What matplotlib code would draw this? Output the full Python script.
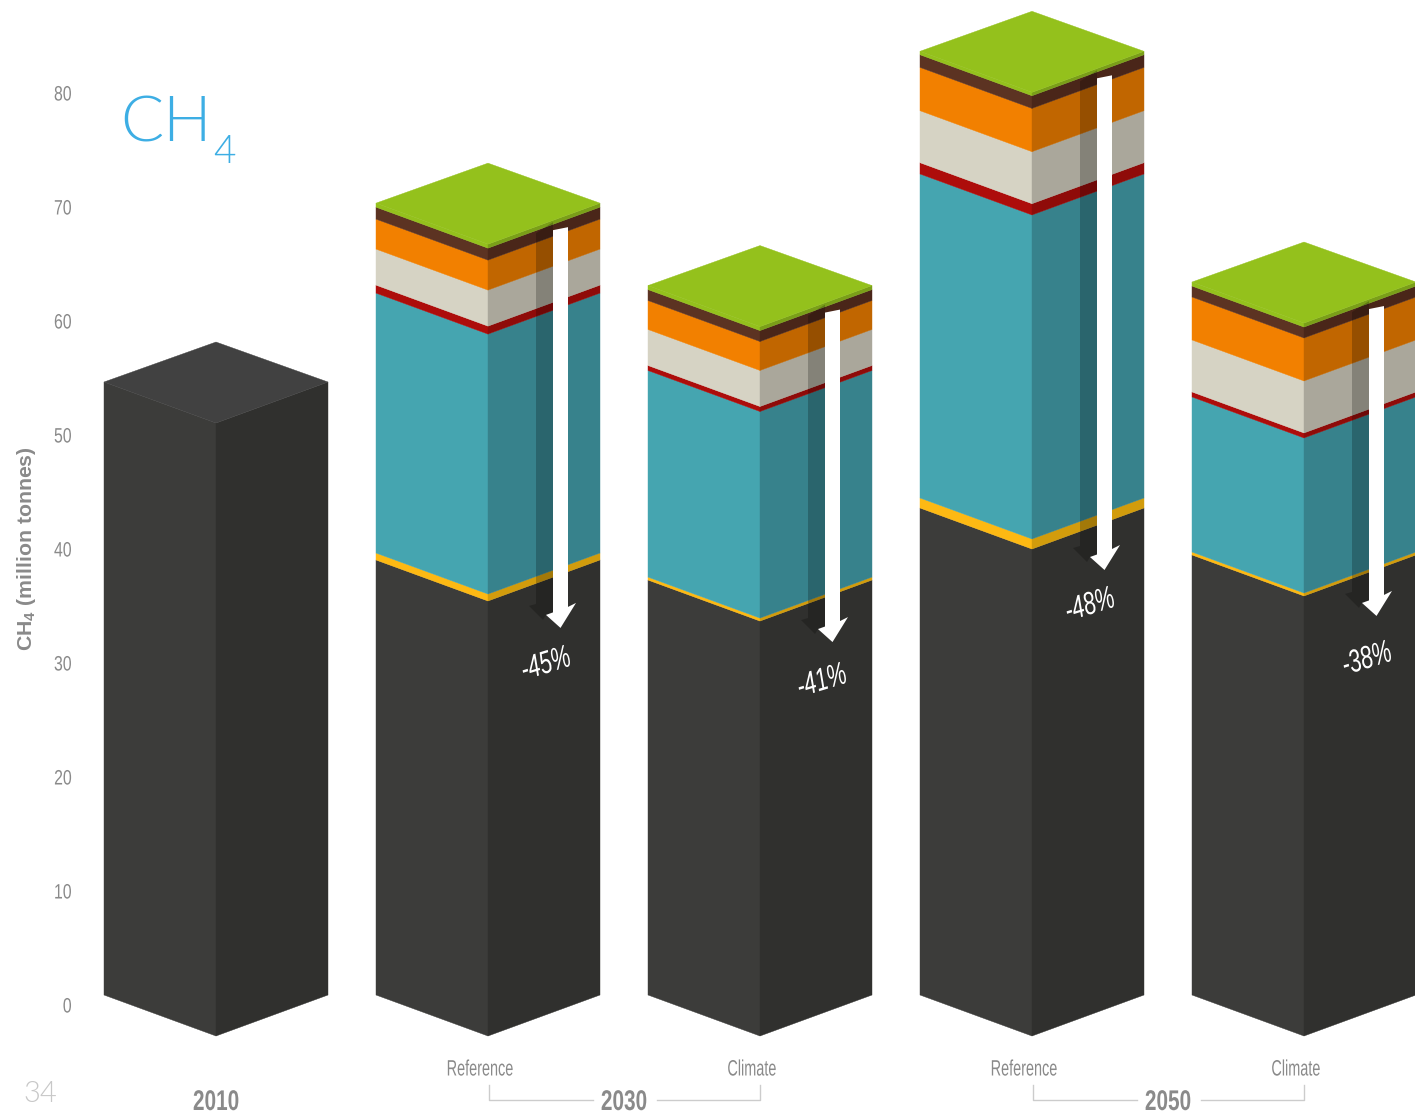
import matplotlib
matplotlib.use('Agg')
import matplotlib.pyplot as plt
from matplotlib.patches import Polygon
from matplotlib.patheffects import AbstractPathEffect
from matplotlib.transforms import Affine2D

# CH4 stacks, million tonnes (2010 has no breakdown)
periods = ['2010', '2030', '2030', '2050', '2050']
scenarios = ['', 'Reference', 'Climate', 'Reference', 'Climate']
dark = [53.77, 38.16, 36.40, 42.72, 38.60]
yellow = [0, 0.61, 0.26, 0.88, 0.26]
teal = [0, 22.80, 18.12, 28.42, 13.60]
red = [0, 0.70, 0.44, 0.99, 0.44]
beige = [0, 3.16, 3.16, 4.56, 4.56]
orange = [0, 2.63, 2.54, 3.80, 3.77]
brown = [0, 1.05, 0.96, 1.11, 0.96]
green = [0, 0.35, 0.35, 0.30, 0.35]

# reduction arrows, where they end
arrow_ends = [32.2, 30.96, 37.28, 33.25]
arrow_labels = ['-45%', '-41%', '-48%', '-38%']

yticks = [0, 10, 20, 30, 40, 50, 60, 70, 80]

layers = [
    (dark, '#3c3c3a', '#30302e'),
    (yellow, '#fdb913', '#d29c0c'),
    (teal, '#45a5b0', '#37828c'),
    (red, '#ad0d0b', '#8f0b09'),
    (beige, '#d6d3c4', '#aaa79b'),
    (orange, '#f28000', '#c16600'),
    (brown, '#5c3322', '#4a2619'),
    (green, '#94c11c', '#7a9f18'),
]

SCALE = 11.4   # px per tonne
STEP = 272     # px between bars
W = 224
DROP = 41 / SCALE

sans = ['Liberation Sans', 'DejaVu Sans']
thin = ['Lato', 'DejaVu Sans']
grey = '#8a8a8a'

# where the percent labels sit, px
label_dx = [170, 174, 170, 175]
label_py = [665, 682, 606, 660]


class Squeeze(AbstractPathEffect):
    # no condensed font here, so narrow the glyphs of the text
    def __init__(self, sx, anchor='center'):
        super().__init__()
        self.sx = sx
        self.anchor = anchor

    def draw_path(self, renderer, gc, tpath, affine, rgbFace=None):
        box = tpath.get_extents()
        cx = box.x1 if self.anchor == 'right' else (box.x0 + box.x1) / 2
        squeeze = Affine2D().translate(-cx, 0).scale(self.sx, 1).translate(cx, 0)
        renderer.draw_path(gc, tpath, squeeze + affine, rgbFace)


fig = plt.figure(figsize=(14.15, 11.14), dpi=100)
ax = fig.add_axes([0, 0, 1, 1])
ax.set_xlim(0, 1415)
ax.set_ylim((995 - 1114) / SCALE, 995 / SCALE)
ax.axis('off')


def py(p):
    return (995 - p) / SCALE


def add_poly(pts, color, **kw):
    ax.add_patch(Polygon(pts, closed=True, facecolor=color, edgecolor='none', **kw))


def add_face(pts, color):
    ax.add_patch(Polygon(pts, closed=True, facecolor=color, edgecolor=color, lw=0.3))


for i in range(len(dark)):
    x0 = 104 + i * STEP
    xc = x0 + W / 2
    x1 = x0 + W
    base = 0
    for vals, c_left, c_right in layers:
        v = vals[i]
        if v == 0:
            continue
        top = base + v
        add_face([(x0, base), (xc, base - DROP), (xc, top - DROP), (x0, top)], c_left)
        add_face([(xc, base - DROP), (x1, base), (x1, top), (xc, top - DROP)], c_right)
        base = top
    # top face
    c_top = '#94c11c' if i > 0 else '#414141'
    add_face([(x0, base), (xc, base + 40 / SCALE), (x1, base), (xc, base - DROP)], c_top)

# arrows
for j, end in enumerate(arrow_ends):
    i = j + 1
    x0 = 104 + i * STEP
    total = sum(vals[i] for vals, _, _ in layers)
    ytop = total - 24 / SCALE

    def pt(dx, dy_px, ref):
        return (x0 + dx, ref - dy_px / SCALE)

    add_poly([pt(160, 6, ytop), pt(177, -5, ytop), pt(177, -16, end), pt(170, -13, end),
              pt(167, -8, end), pt(153, -22, end), pt(160, -24, end)],
             'black', alpha=0.22)
    add_poly([pt(177, 3, ytop), pt(192, 0, ytop), pt(192, -21, end), pt(200, -25, end),
              pt(184.5, 0, end), pt(170, -13, end), pt(177, -15.5, end)], 'white')
    ax.text(x0 + label_dx[j], py(label_py[j]), arrow_labels[j], color='white', fontsize=23,
            family=sans, style='italic', rotation=17, ha='center', va='center',
            path_effects=[Squeeze(0.68)])

# y axis text
for t in yticks:
    ax.text(72, t - 12 / SCALE, str(t), color=grey, fontsize=15, family=sans,
            ha='right', va='center', path_effects=[Squeeze(0.76, 'right')])
ax.text(27, py(549), r'CH$_{\mathregular{4}}$ (million tonnes)', color=grey, fontsize=15.3,
        family=sans, fontweight='bold', rotation=90, ha='center', va='center')

# title
ax.text(120, py(141), 'CH', color='#3daee4', fontsize=46, family=thin, fontweight=300,
        ha='left', va='baseline')
ax.text(213, py(163), '4', color='#3daee4', fontsize=28, family=thin, fontweight=300,
        ha='left', va='baseline')
ax.text(40, py(1094), '34', color='#c8c8c8', fontsize=21, family=thin, fontweight=300,
        ha='center', va='center')

# bottom labels and brackets
for i, name in enumerate(scenarios):
    if name:
        ax.text(104 + i * STEP + 104, py(1070), name, color=grey, fontsize=16, family=sans,
                ha='center', va='center', path_effects=[Squeeze(0.65)])

bold_kw = dict(color=grey, fontsize=20.5, family=sans, fontweight='bold', ha='center', va='center',
               path_effects=[Squeeze(0.73)])
ax.text(216, py(1103), periods[0], **bold_kw)
for i in (1, 3):
    xa = 104 + i * STEP + W / 2
    xb = xa + STEP
    xm = (xa + xb) / 2
    ax.text(xm, py(1103), periods[i], **bold_kw)
    ax.plot([xa + 1, xa + 1, xm - 31], [py(1085), py(1100), py(1100)], color='#cccccc', lw=1)
    ax.plot([xm + 33, xb, xb], [py(1100), py(1100), py(1085)], color='#cccccc', lw=1)

fig.savefig('out.png', dpi=100)
